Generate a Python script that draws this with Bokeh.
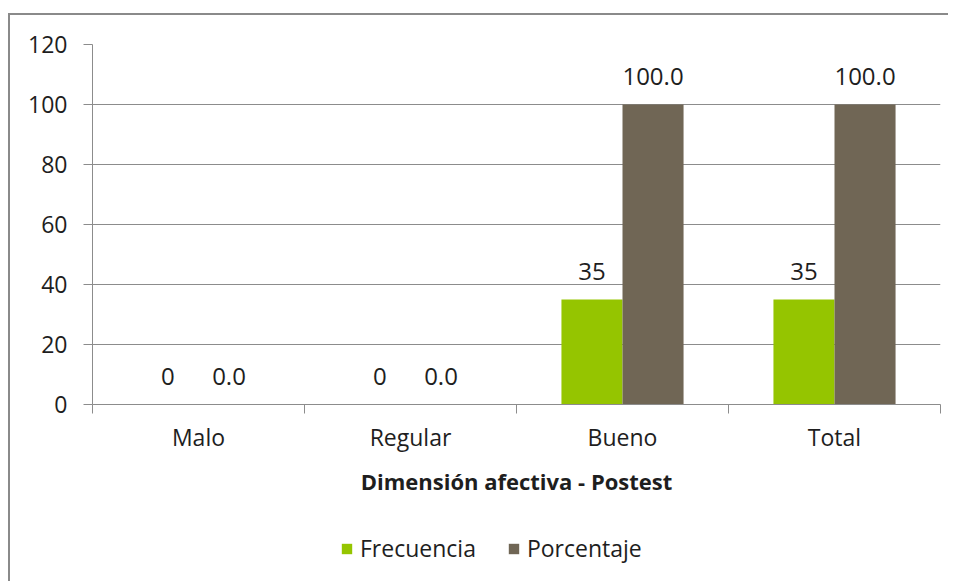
from bokeh.plotting import figure
from bokeh.layouts import column
from bokeh.models import Range1d, FixedTicker, ColumnDataSource, LabelSet, Legend, LegendItem
from bokeh.core.properties import value
from bokeh.embed import file_html
from bokeh.resources import INLINE

categories = ["Malo", "Regular", "Bueno", "Total"]
frecuencia = [0, 0, 35, 35]
porcentaje = [0.0, 0.0, 100.0, 100.0]
frec_labels = ["0", "0", "35", "35"]
porc_labels = ["0.0", "0.0", "100.0", "100.0"]
y_ticks = [0, 20, 40, 60, 80, 100, 120]

GREEN = "#95C500"
BROWN = "#706655"
GRID = "#8C8C8C"
TEXT = "#1E1E1E"
FONT = "Open Sans"
BORDER = "2px solid #8A8A8A"

centers = [i + 0.5 for i in range(len(categories))]
bw = 0.288
src = ColumnDataSource(dict(
    xf=[c - bw / 2 for c in centers],
    xp=[c + bw / 2 for c in centers],
    f=frecuencia, p=porcentaje, fl=frec_labels, pl=porc_labels,
))

p = figure(width=940, height=489, x_range=Range1d(0, len(categories)), y_range=Range1d(0, 120),
           output_backend="svg", toolbar_location=None,
           min_border_left=82, min_border_top=29, min_border_right=10, min_border_bottom=100)
p.margin = (13, 0, 0, 8)
p.styles = {"border-top": BORDER, "border-left": BORDER}
p.outline_line_color = None
p.background_fill_color = "white"
p.border_fill_color = "white"

p.vbar(x="xf", top="f", width=bw, source=src, fill_color=GREEN, line_color=None)
p.vbar(x="xp", top="p", width=bw, source=src, fill_color=BROWN, line_color=None)

for col, xcol, ycol in (("fl", "xf", "f"), ("pl", "xp", "p")):
    p.add_layout(LabelSet(x=xcol, y=ycol, text=col, source=src, text_align="center",
                          text_baseline="alphabetic", y_offset=20,
                          text_font=value(FONT), text_font_size="24px", text_color=TEXT))

# axes
p.xgrid.visible = False
p.ygrid.grid_line_color = GRID
p.ygrid.grid_line_width = 1
p.yaxis.ticker = FixedTicker(ticks=y_ticks)
p.yaxis.axis_line_color = GRID
p.yaxis.major_tick_line_color = GRID
p.yaxis.major_tick_out = 9
p.yaxis.major_tick_in = 0
p.yaxis.minor_tick_line_color = None
p.yaxis.major_label_standoff = 16
p.yaxis.major_label_text_font = FONT
p.yaxis.major_label_text_font_size = "23px"
p.yaxis.major_label_text_color = TEXT

p.xaxis.ticker = FixedTicker(ticks=centers, minor_ticks=list(range(len(categories) + 1)))
p.xaxis.major_label_overrides = {c: name for c, name in zip(centers, categories)}
p.xaxis.axis_line_color = GRID
p.xaxis.major_tick_line_color = None
p.xaxis.major_tick_out = 0
p.xaxis.major_tick_in = 0
p.xaxis.minor_tick_line_color = GRID
p.xaxis.minor_tick_out = 9
p.xaxis.minor_tick_in = 0
p.xaxis.major_label_standoff = 7
p.xaxis.major_label_text_font = FONT
p.xaxis.major_label_text_font_size = "23px"
p.xaxis.major_label_text_color = TEXT
p.xaxis.axis_label = "Dimensión afectiva - Postest"
p.xaxis.axis_label_text_font = FONT
p.xaxis.axis_label_text_font_style = "bold"
p.xaxis.axis_label_text_font_size = "22px"
p.xaxis.axis_label_text_color = TEXT
p.xaxis.axis_label_standoff = 10

# legend strip (same data source, bars kept out of its view)
p2 = figure(width=940, height=79, x_range=Range1d(100, 101), y_range=Range1d(100, 101),
            output_backend="svg", toolbar_location=None, x_axis_type=None, y_axis_type=None,
            min_border=0)
p2.margin = (0, 0, 0, 8)
p2.styles = {"border-left": BORDER}
p2.outline_line_color = None
p2.grid.visible = False
p2.border_fill_color = "white"
lf = p2.vbar(x="xf", top="f", width=bw, source=src, fill_color=GREEN, line_color=None)
lp = p2.vbar(x="xp", top="p", width=bw, source=src, fill_color=BROWN, line_color=None)

legend = Legend(items=[LegendItem(label="Frecuencia", renderers=[lf]),
                       LegendItem(label="Porcentaje", renderers=[lp])],
                orientation="horizontal", location=(248, 17),
                glyph_width=13, glyph_height=13, label_standoff=7, spacing=31,
                padding=0, margin=0, border_line_color=None, background_fill_alpha=0,
                label_text_font=FONT, label_text_font_size="23px", label_text_color=TEXT)
p2.add_layout(legend, "center")

layout = column(p, p2, spacing=0)
open("out.html", "w").write(file_html(layout, INLINE))
